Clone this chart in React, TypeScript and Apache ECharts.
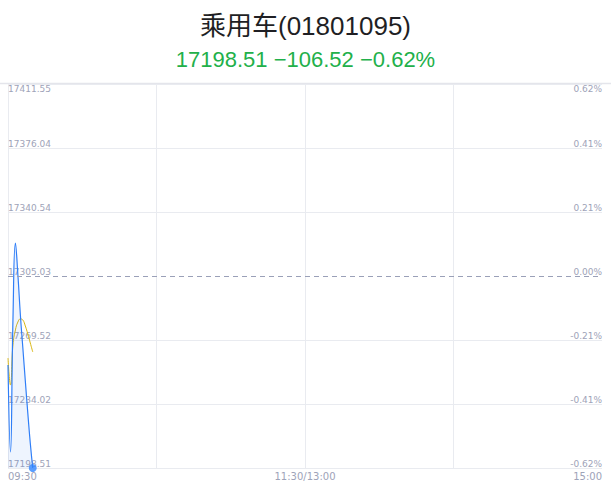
import React, { useEffect, useRef } from "react";
import * as echarts from "echarts";

// 分时数据（09:30 起，每分钟一个点）
const priceValues = [
	17255.6, 17207.4, 17280.6, 17323.3, 17305.6, 17283.4, 17265.1, 17246.8, 17229.0,
	17212.4, 17198.51,
];
const avgValues = [
	17259.5, 17244.6, 17266.8, 17275.1, 17279.5, 17281.2, 17280.6, 17277.3, 17272.9,
	17267.9, 17262.9,
];

const prevClose = 17305.03;
const priceMin = 17198.51;
const priceMax = 17411.55;

// 刻度标签（自下而上）
const priceTickLabels = [
	"17198.51",
	"17234.02",
	"17269.52",
	"17305.03",
	"17340.54",
	"17376.04",
	"17411.55",
];
const pctTickLabels = ["-0.62%", "-0.41%", "-0.21%", "0.00%", "0.21%", "0.41%", "0.62%"];

const titleText = "乘用车(01801095)";
const subText = "17198.51 −106.52 −0.62%";

// 时间轴：09:30-11:30 / 13:00-15:00
const pad = (n: number) => (n < 10 ? "0" + n : "" + n);
const timeLabels: string[] = [];
for (let i = 0; i <= 120; i++) {
	const m = 9 * 60 + 30 + i;
	timeLabels.push(i === 120 ? "11:30/13:00" : pad(Math.floor(m / 60)) + ":" + pad(m % 60));
}
for (let i = 1; i <= 120; i++) {
	const m = 13 * 60 + i;
	timeLabels.push(pad(Math.floor(m / 60)) + ":" + pad(m % 60));
}

const labelColor = "#9ea3b8";
const gridColor = "#e9ebf0";

const App: React.FC = () => {
	const chartRef = useRef<HTMLDivElement>(null);

	useEffect(() => {
		document.body.style.margin = "0";
		if (!chartRef.current) return;
		const chart = echarts.init(chartRef.current, undefined, { renderer: "svg" });

		const last = priceValues.length - 1;

		const option: any = {
			animation: false,
			title: {
				text: titleText,
				subtext: subText,
				left: "center",
				top: 8,
				itemGap: 9,
				textStyle: {
					fontFamily: "Liberation Sans, Noto Sans CJK SC",
					fontSize: 26,
					fontWeight: "normal",
					color: "#1f1f24",
				},
				subtextStyle: {
					fontFamily: "Liberation Sans, Noto Sans CJK SC",
					fontSize: 22,
					color: "#22b04a",
				},
			},
			graphic: [
				{
					type: "line",
					shape: { x1: 0, y1: 83.5, x2: 611, y2: 83.5 },
					style: { stroke: "#e4e5eb", lineWidth: 1.5 },
					z: 0,
				},
			],
			grid: {
				left: 8,
				right: 9,
				top: 84,
				bottom: 24,
				containLabel: false,
				outerBoundsMode: "none",
			},
			xAxis: {
				type: "category",
				data: timeLabels,
				boundaryGap: false,
				axisLine: { show: false },
				axisTick: { show: false },
				axisLabel: {
					interval: (i: number) => i === 0 || i === 120 || i === 240,
					color: labelColor,
					fontSize: 10,
					margin: 3,
					fontFamily: "DejaVu Sans",
					alignMinLabel: "left",
					alignMaxLabel: "right",
					showMinLabel: true,
					showMaxLabel: true,
				},
				splitLine: {
					show: true,
					interval: (i: number) => i % 60 === 0 && i < 240,
					lineStyle: { color: gridColor, width: 1 },
				},
			},
			yAxis: [
				{
					type: "value",
					show: false,
					min: priceMin,
					max: priceMax,
				},
				{
					type: "value",
					position: "left",
					min: 0,
					max: 6,
					interval: 1,
					axisLine: { show: false },
					axisTick: { show: false },
					axisLabel: {
						inside: true,
						margin: 0,
						verticalAlign: "bottom",
						verticalAlignMaxLabel: "top",
						color: labelColor,
						fontSize: 9,
						fontFamily: "DejaVu Sans",
						formatter: (v: number) => priceTickLabels[v],
					},
					splitLine: {
						show: true,
						lineStyle: {
							color: [gridColor, gridColor, gridColor, "transparent", gridColor, gridColor, gridColor],
							width: 1,
						},
					},
				},
				{
					type: "value",
					position: "right",
					min: 0,
					max: 6,
					interval: 1,
					axisLine: { show: false },
					axisTick: { show: false },
					splitLine: { show: false },
					axisLabel: {
						inside: true,
						margin: 0,
						verticalAlign: "bottom",
						verticalAlignMaxLabel: "top",
						color: labelColor,
						fontSize: 9,
						fontFamily: "DejaVu Sans",
						formatter: (v: number) => pctTickLabels[v],
					},
				},
			],
			series: [
				{
					name: "价格",
					type: "line",
					yAxisIndex: 0,
					data: priceValues,
					smooth: true,
					showSymbol: false,
					lineStyle: { color: "#2f7ef7", width: 1.2 },
					areaStyle: { color: "rgba(47,126,247,0.12)", origin: "start" },
					markLine: {
						silent: true,
						symbol: ["none", "none"],
						label: { show: false },
						lineStyle: { color: "#9aa0b8", type: [5, 4], width: 1 },
						data: [{ yAxis: prevClose }],
					},
					z: 3,
				},
				{
					name: "均价",
					type: "line",
					yAxisIndex: 0,
					data: avgValues,
					smooth: true,
					showSymbol: false,
					lineStyle: { color: "#d9b611", width: 1 },
					z: 2,
				},
				{
					name: "最新",
					type: "scatter",
					yAxisIndex: 0,
					data: [[last, priceValues[last]]],
					symbolSize: 8,
					itemStyle: { color: "#2f86ff" },
					z: 4,
				},
			],
		};

		chart.setOption(option);
		return () => {
			chart.dispose();
		};
	}, []);

	return <div ref={chartRef} style={{ width: "611px", height: "492px" }} />;
};

export default App;
